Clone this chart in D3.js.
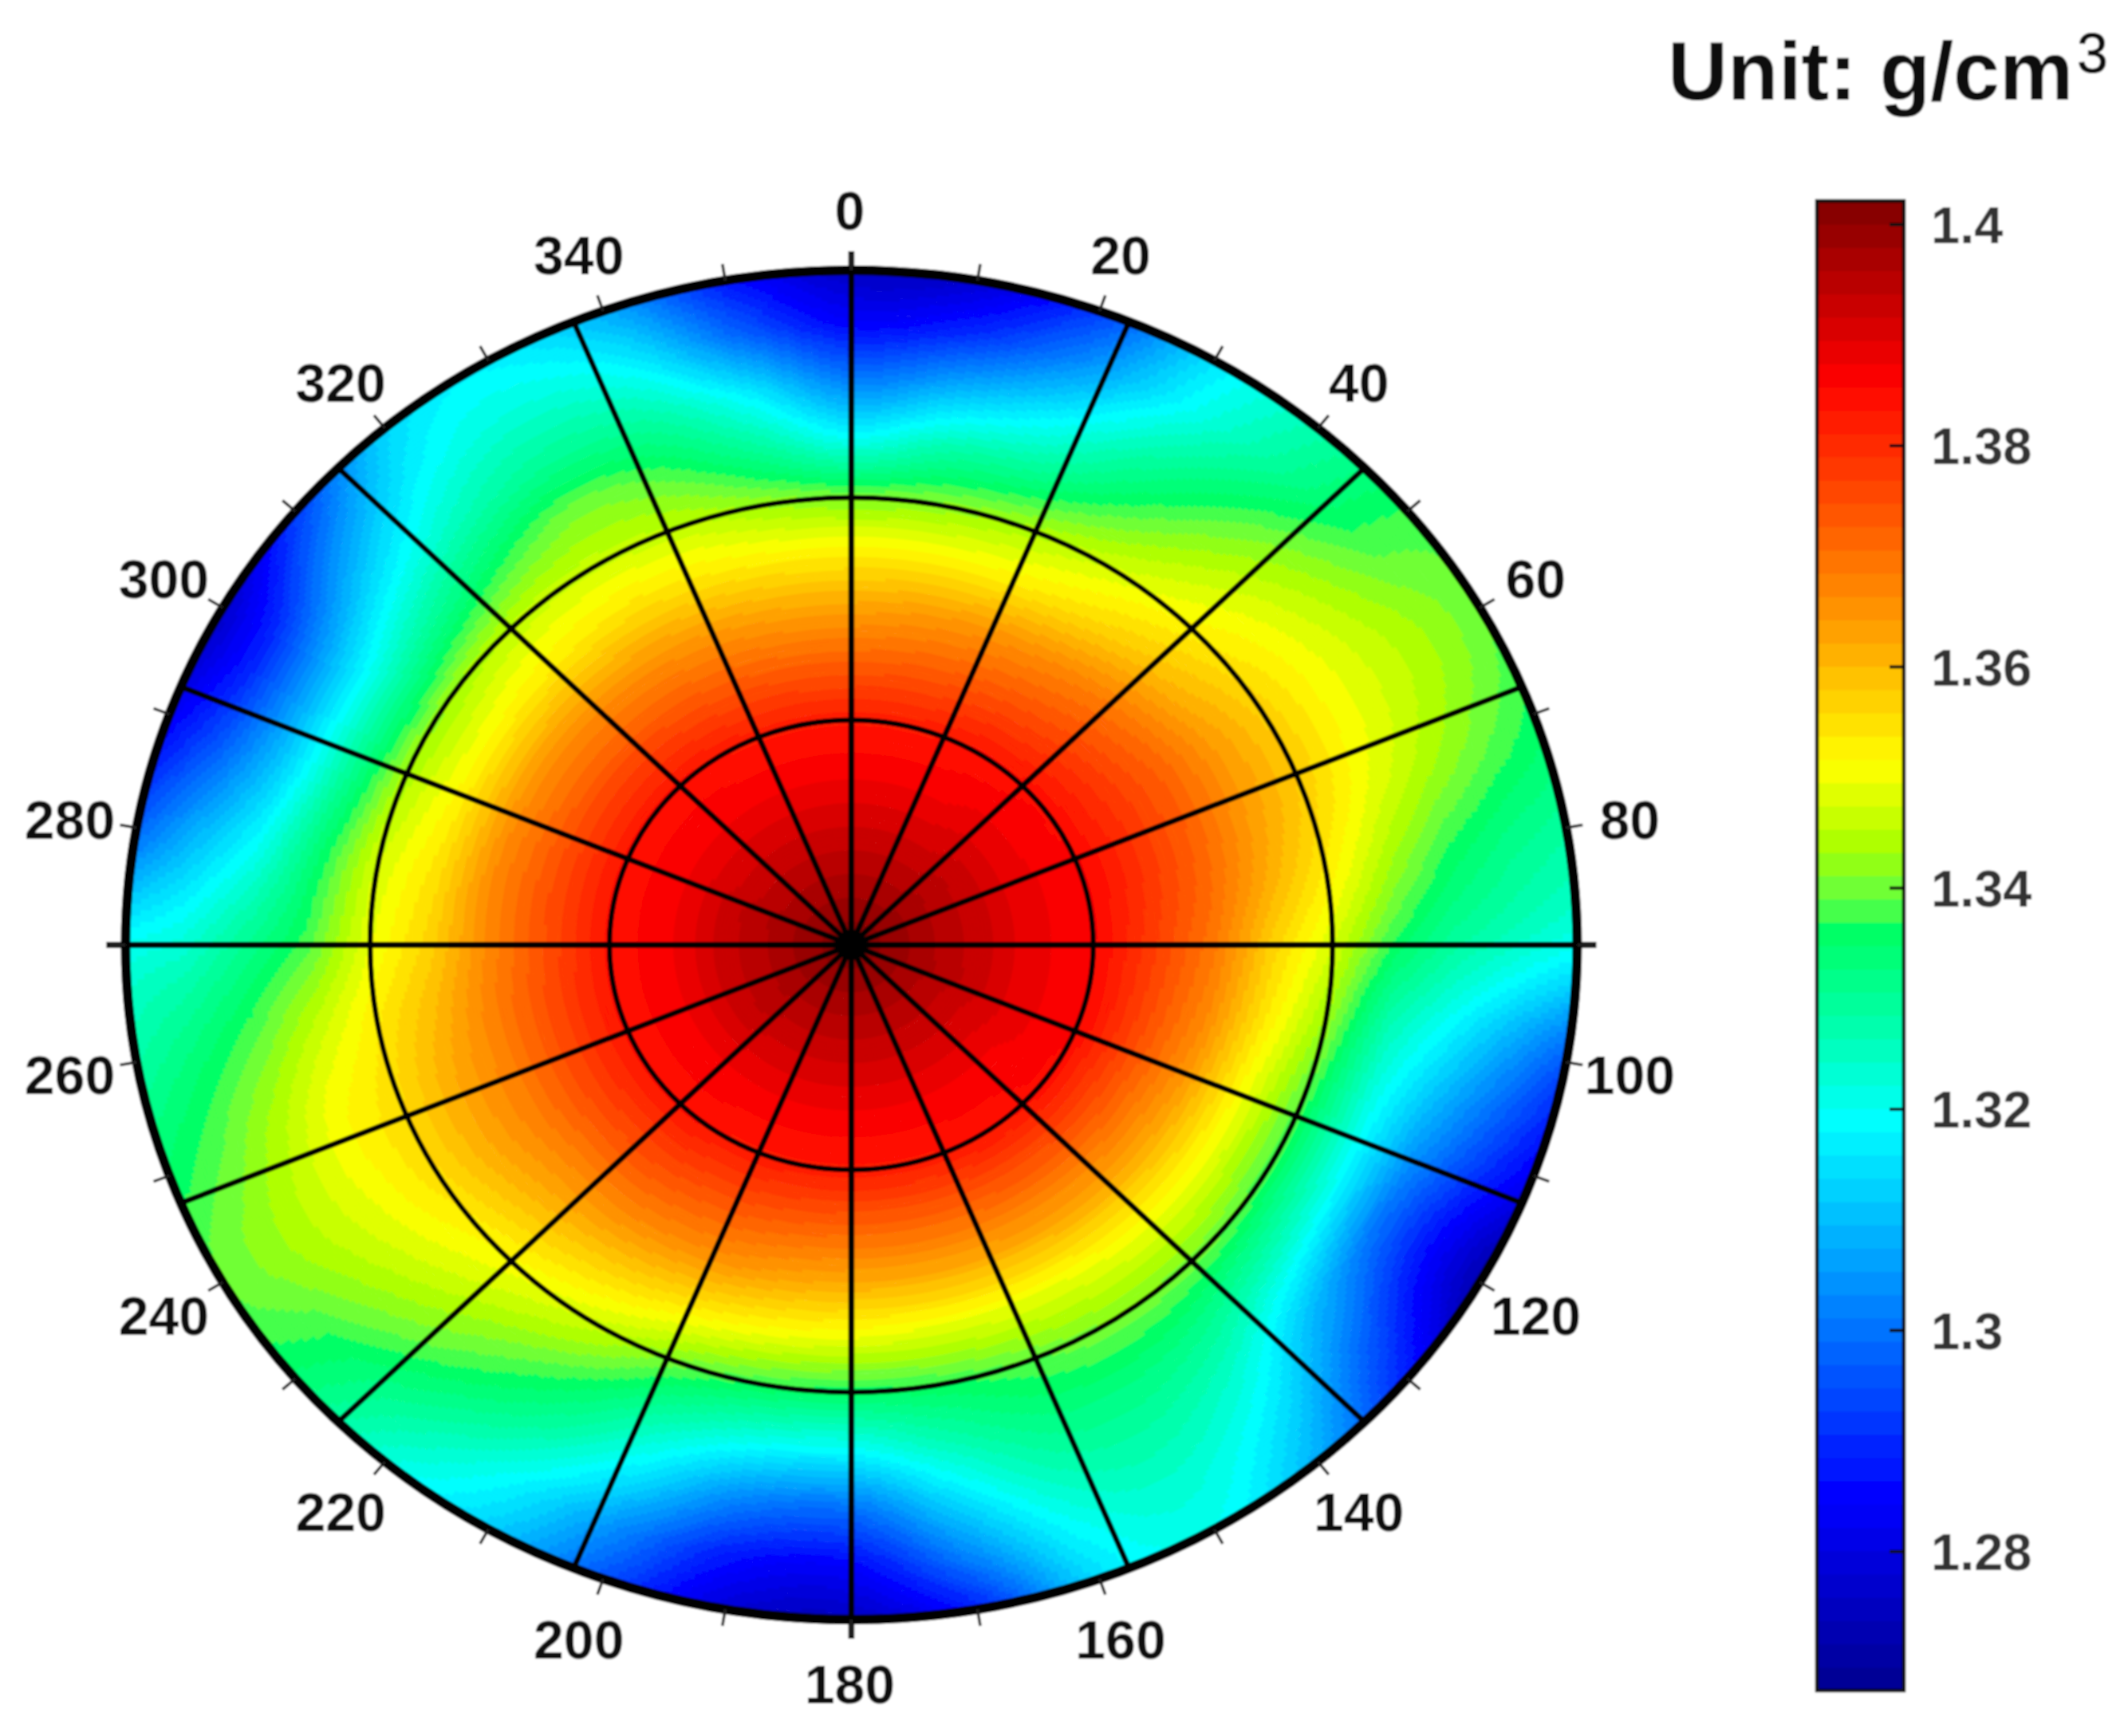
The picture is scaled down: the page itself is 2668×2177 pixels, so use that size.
<!DOCTYPE html>
<html><head><meta charset="utf-8">
<script src="https://cdn.jsdelivr.net/npm/d3@7"></script>
<style>html,body{margin:0;padding:0;background:#fff}svg{display:block}text{font-family:"Liberation Sans",Arial,sans-serif}</style>
</head><body><svg id="c" width="2668" height="2177"></svg>
<script>
// Angles of the value samples (degrees, clockwise from the top) and their relative radii
const sampleAngles = d3.range(36).map(i => i * 10);
const radiiKnots = [0, 0.17, 0.25, 0.33, 0.5, 0.58, 0.667, 0.75, 0.83, 0.92, 1];
// Density (g/cm3) at each radius, one entry per sample angle
const r000 = Array(36).fill(1.402);
const r017 = [1.392,1.392,1.392,1.392,1.392,1.393,1.393,1.393,1.393,1.393,1.393,1.393,1.392,1.392,1.392,1.392,1.392,1.392,1.392,1.392,1.392,1.392,1.392,1.393,1.393,1.393,1.393,1.393,1.393,1.393,1.392,1.392,1.392,1.392,1.392,1.392];
const r025 = [1.387,1.387,1.387,1.387,1.388,1.388,1.388,1.388,1.388,1.388,1.388,1.388,1.388,1.387,1.387,1.387,1.387,1.387,1.387,1.387,1.387,1.387,1.387,1.387,1.387,1.387,1.387,1.387,1.387,1.387,1.387,1.387,1.387,1.387,1.387,1.387];
const r033 = [1.383,1.383,1.383,1.384,1.384,1.385,1.385,1.386,1.386,1.386,1.386,1.386,1.385,1.385,1.384,1.384,1.383,1.383,1.383,1.383,1.383,1.383,1.384,1.384,1.384,1.384,1.384,1.384,1.384,1.384,1.384,1.384,1.384,1.383,1.383,1.383];
const r050 = [1.363,1.364,1.365,1.366,1.368,1.370,1.372,1.372,1.371,1.369,1.367,1.365,1.363,1.362,1.362,1.362,1.362,1.362,1.362,1.363,1.365,1.366,1.367,1.367,1.368,1.368,1.368,1.367,1.367,1.366,1.365,1.365,1.365,1.365,1.364,1.363];
const r058 = [1.353,1.353,1.353,1.355,1.358,1.361,1.364,1.364,1.362,1.357,1.354,1.351,1.350,1.350,1.350,1.349,1.349,1.349,1.350,1.351,1.353,1.356,1.358,1.360,1.362,1.362,1.360,1.357,1.355,1.353,1.352,1.353,1.354,1.355,1.354,1.353];
const r067 = [1.340,1.341,1.343,1.346,1.350,1.354,1.357,1.357,1.353,1.347,1.342,1.338,1.337,1.339,1.340,1.340,1.338,1.336,1.335,1.336,1.339,1.345,1.349,1.352,1.355,1.355,1.353,1.349,1.347,1.344,1.342,1.344,1.346,1.346,1.345,1.342];
const r075 = [1.320,1.327,1.330,1.337,1.344,1.349,1.351,1.350,1.344,1.336,1.326,1.321,1.321,1.325,1.331,1.333,1.332,1.326,1.319,1.320,1.327,1.336,1.342,1.347,1.350,1.351,1.346,1.338,1.334,1.328,1.325,1.330,1.336,1.340,1.337,1.329];
const r083 = [1.303,1.310,1.318,1.329,1.338,1.344,1.347,1.345,1.337,1.329,1.317,1.307,1.301,1.310,1.323,1.328,1.326,1.315,1.301,1.303,1.316,1.328,1.336,1.342,1.346,1.345,1.339,1.331,1.320,1.311,1.309,1.318,1.326,1.330,1.328,1.317];
const r092 = [1.285,1.290,1.303,1.319,1.330,1.338,1.343,1.340,1.332,1.324,1.306,1.294,1.285,1.298,1.315,1.323,1.319,1.302,1.285,1.287,1.303,1.318,1.328,1.336,1.342,1.339,1.333,1.323,1.309,1.295,1.290,1.305,1.318,1.322,1.317,1.298];
const r100 = [1.275,1.277,1.292,1.315,1.327,1.337,1.339,1.336,1.329,1.320,1.296,1.283,1.272,1.288,1.308,1.320,1.314,1.288,1.275,1.278,1.295,1.312,1.322,1.334,1.339,1.335,1.328,1.320,1.298,1.283,1.276,1.292,1.313,1.317,1.307,1.287];
const valueRows = [r000, r017, r025, r033, r050, r058, r067, r075, r083, r092, r100];
// Axis labels and colour bar
const angleLabels = d3.range(0, 360, 20);
const angleTicks = d3.range(0, 360, 10);
const spokeAngles = d3.range(0, 360, 22.5);
const ringRadii = [1/3, 0.663, 1];
const barTicks = [1.28, 1.3, 1.32, 1.34, 1.36, 1.38, 1.4];
const valueDomain = [1.2674, 1.4021];
// Colour map
const mapStops = ["#00008f","#0000ff","#00ffff","#00ffb4","#00ff64","#32ff55","#78ff32","#aaff00","#ffff00","#ffa500","#ff0000","#800000"];
const mapAt = [0, 0.128, 0.382, 0.439, 0.510, 0.517, 0.542, 0.567, 0.621, 0.707, 0.878, 1];
const LEVELS = 64;

const svg = d3.select("#c");
const root = svg.append("g");
const defs = svg.append("defs");
defs.append("filter").attr("id","soft").attr("x","-2%").attr("y","-2%").attr("width","104%").attr("height","104%")
  .append("feGaussianBlur").attr("stdDeviation",1.2);
root.attr("filter","url(#soft)");
root.append("rect").attr("width",2668).attr("height",2177).attr("fill","#fff");

const cx = 1067.4, cy = 1185, RX = 910, RY = 846;
const mapPos = d3.scaleLinear().domain(mapAt).range(mapStops).interpolate(d3.interpolateRgb);
const palette = d3.range(LEVELS).map(i => mapPos((i + 0.5) / LEVELS));
const color = d3.scaleQuantize().domain(valueDomain).range(d3.range(LEVELS));
const xR = d3.scaleLinear().domain([0, 1]).range([0, RX]);
const yR = d3.scaleLinear().domain([0, 1]).range([0, RY]);
const ang = d3.scaleLinear().domain([0, 360]).range([0, 2 * Math.PI]);
const px = (deg, r) => cx + xR(r) * Math.sin(ang(deg));
const py = (deg, r) => cy - yR(r) * Math.cos(ang(deg));

// Shading between samples (like MATLAB's interpolated shading): Catmull-Rom around, linear outwards
function ringValue(row, deg) {
  const n = row.length, t = deg / 10, i = Math.floor(t) % n, f = t - Math.floor(t);
  const a = row[(i + n - 1) % n], b = row[i], c = row[(i + 1) % n], d = row[(i + 2) % n];
  return 0.5 * (2*b + (c-a)*f + (2*a-5*b+4*c-d)*f*f + (3*b-a-3*c+d)*f*f*f);
}
function field(deg, r) {
  const k = Math.min(d3.bisectRight(radiiKnots, r) - 1, radiiKnots.length - 2);
  const f = (r - radiiKnots[k]) / (radiiKnots[k+1] - radiiKnots[k]);
  return ringValue(valueRows[k], deg) * (1 - f) + ringValue(valueRows[k+1], deg) * f;
}

// Heat map: fine polar cells, merged into runs of one colour level, squashed to the ellipse
const dA = 0.5, dR = 0.005, nR = Math.round(1 / dR), nA = Math.round(360 / dA);
const paths = palette.map(() => d3.path());
const arc = d3.arc();
for (let j = 0; j < nR; j++) {
  const r0 = j * dR, r1 = (j + 1) * dR;
  let start = 0, cur = color(field(dA / 2, r0 + dR / 2));
  for (let i = 1; i <= nA; i++) {
    const lv = i < nA ? color(field((i + 0.5) * dA, r0 + dR / 2)) : -1;
    if (lv !== cur) {
      arc.context(paths[cur])({innerRadius: xR(r0), outerRadius: xR(r1), startAngle: ang(start * dA), endAngle: ang(i * dA)});
      start = i; cur = lv;
    }
  }
}
const heat = root.append("g").attr("transform", `translate(${cx},${cy}) scale(1,${RY / RX})`);
heat.selectAll("path").data(palette).join("path")
  .attr("d", (c, i) => paths[i].toString()).attr("fill", c => c).attr("stroke", c => c).attr("stroke-width", 0.8);

// Rings
root.selectAll("ellipse.ring").data(ringRadii).join("ellipse").attr("class","ring")
  .attr("cx",cx).attr("cy",cy).attr("rx",d=>xR(d)).attr("ry",d=>yR(d))
  .attr("fill","none").attr("stroke","#000").attr("stroke-width",d=>d===1?12:6.5);

// Spokes (the axis-aligned ones stick out past the rim)
root.selectAll("line.spoke").data(spokeAngles).join("line").attr("class","spoke")
  .attr("x1",cx).attr("y1",cy)
  .attr("x2",d=>px(d,1)+(d%90===0?Math.sin(ang(d))*24:0))
  .attr("y2",d=>py(d,1)-(d%90===0?Math.cos(ang(d))*24:0))
  .attr("stroke","#000").attr("stroke-width",d=>d%90===0?7.5:7);
root.append("circle").attr("cx",cx).attr("cy",cy).attr("r",19).attr("fill","#000");

// Angle ticks
root.selectAll("line.tick").data(angleTicks).join("line").attr("class","tick")
  .attr("x1",d=>px(d,1)).attr("y1",d=>py(d,1))
  .attr("x2",d=>px(d,1)+Math.sin(ang(d))*21).attr("y2",d=>py(d,1)-Math.cos(ang(d))*21)
  .attr("stroke","#222").attr("stroke-width",3.5);

// Angle labels
root.selectAll("text.al").data(angleLabels).join("text").attr("class","al")
  .attr("x",d=>cx-2+(RX+83)*Math.sin(ang(d))).attr("y",d=>cy+3-(RY+78)*Math.cos(ang(d)))
  .attr("text-anchor","middle").attr("dominant-baseline","central")
  .attr("font-size",68).attr("font-weight","bold").attr("fill","#0a0a0a").text(d=>d);

// Colour bar
const barX = 2278, barW = 109, barTop = 252, barBottom = 2120;
const yBar = d3.scaleLinear().domain(valueDomain).range([barBottom, barTop]);
const bar = root.append("g");
bar.selectAll("rect").data(palette).join("rect")
  .attr("x",barX).attr("width",barW)
  .attr("y",(c,i)=>barBottom-(i+1)*(barBottom-barTop)/LEVELS-0.5)
  .attr("height",(barBottom-barTop)/LEVELS+1).attr("fill",c=>c);
bar.append("rect").attr("x",barX).attr("y",barTop).attr("width",barW).attr("height",barBottom-barTop)
  .attr("fill","none").attr("stroke","#111").attr("stroke-width",4.5);
const axis = d3.axisRight(yBar).tickValues(barTicks).tickSize(-18).tickPadding(34).tickFormat(d3.format("~r"));
const ax = root.append("g").attr("transform",`translate(${barX+barW},0)`).call(axis);
ax.select(".domain").remove();
ax.selectAll(".tick line").attr("stroke","#111").attr("stroke-width",4);
ax.selectAll(".tick text").attr("font-size",65).attr("font-weight","bold").attr("fill","#333")
  .attr("font-family","Liberation Sans").attr("dy","0.36em");

// Unit title
const title = root.append("text").attr("x",2091).attr("y",125).attr("font-size",104).attr("font-weight","bold").attr("fill","#0a0a0a");
title.append("tspan").text("Unit: g/cm");
root.append("text").attr("x",2604).attr("y",91).attr("font-size",70).attr("fill","#0a0a0a")
  .attr("stroke","#0a0a0a").attr("stroke-width",0.8).text("3");
</script></body></html>
